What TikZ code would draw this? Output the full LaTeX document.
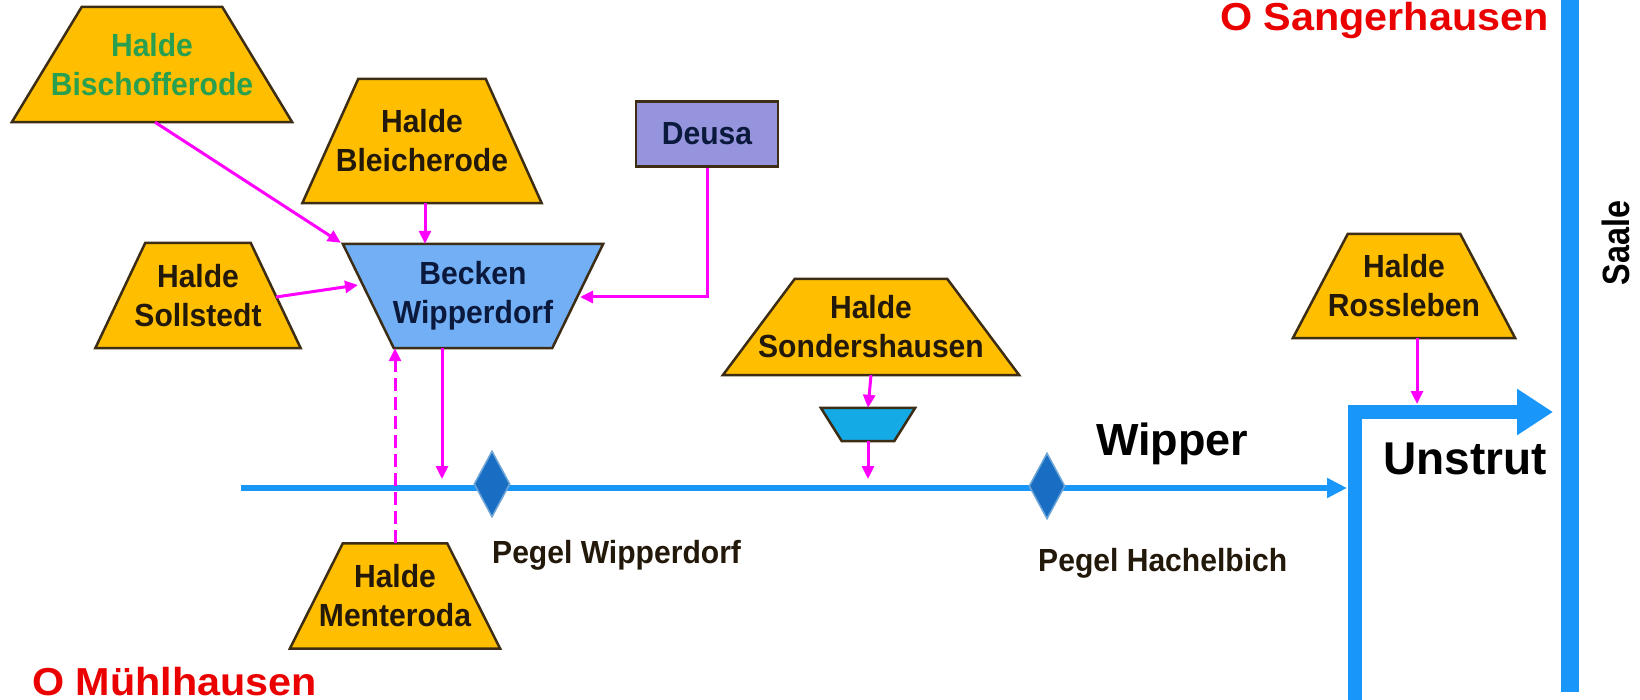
\documentclass[tikz,border=0pt]{standalone}
\usepackage{fontspec}
\setmainfont{Liberation Sans}
\newfontfamily\redfont[FakeStretch=1.06]{Liberation Sans}
\newfontfamily\boxfont[FakeStretch=0.94]{Liberation Sans}
\newfontfamily\saalefont[FakeStretch=0.85]{Liberation Sans}
\usetikzlibrary{shapes.geometric,arrows.meta,backgrounds,calc}
\definecolor{haldefill}{RGB}{255,190,0}
\definecolor{outl}{RGB}{60,45,20}
\definecolor{beckfill}{RGB}{115,175,245}
\definecolor{deusafill}{RGB}{150,148,220}
\definecolor{bucketfill}{RGB}{20,170,230}
\definecolor{river}{RGB}{25,150,250}
\definecolor{pegel}{RGB}{25,110,195}
\definecolor{pegelrim}{RGB}{110,165,215}
\definecolor{mag}{RGB}{255,0,255}
\definecolor{boxtext}{RGB}{35,25,10}
\definecolor{becktext}{RGB}{10,25,60}
\definecolor{greentext}{RGB}{40,160,80}
\definecolor{redtext}{RGB}{235,0,0}
\newcommand\haldeshape[3]{\filldraw[#3] ($(#1.north west)+(#2,0)$) -- ($(#1.north east)+(-#2,0)$) -- (#1.south east) -- (#1.south west) -- cycle;}
\newcommand\invshape[3]{\filldraw[#3] (#1.north west) -- (#1.north east) -- ($(#1.south east)+(-#2,0)$) -- ($(#1.south west)+(#2,0)$) -- cycle;}
\begin{document}
\begin{tikzpicture}[x=1pt,y=-1pt,
  boxtxt/.style={inner sep=0pt, align=center, font=\boxfont\fontsize{32}{39}\selectfont\bfseries, text=boxtext},
  haldestyle/.style={fill=haldefill, draw=outl, line width=2.5pt, line join=miter},
  beckstyle/.style={fill=beckfill, draw=outl, line width=2.5pt},
  bucketstyle/.style={fill=bucketfill, draw=outl, line width=2.5pt},
  magarrow/.style={draw=mag, line width=3pt, -{Triangle[length=13pt,width=12pt]}},
  magdash/.style={magarrow, dash pattern=on 13pt off 6pt},
  pegelstyle/.style={diamond, fill=pegel, draw=pegelrim, line width=1.5pt, minimum width=36pt, minimum height=66pt, inner sep=0pt},
  labeltxt/.style={inner sep=0pt, anchor=base west, font=\boxfont\fontsize{32}{36}\selectfont\bfseries, text=boxtext},
  bigtxt/.style={inner sep=0pt, anchor=base west, text=black},
  citytxt/.style={inner sep=0pt, anchor=base west, text=redtext, font=\redfont\fontsize{39}{42}\selectfont\bfseries}]
\useasboundingbox (0,0) rectangle (1640,700);

% trapezoid labels (shapes drawn on background layer)
\node[boxtxt, text=greentext, minimum width=280pt, minimum height=115pt] (bisch) at (152,64.5) {Halde\\Bischofferode};
\node[boxtxt, minimum width=239pt, minimum height=124pt] (bleich) at (422,141) {Halde\\Bleicherode};
\node[boxtxt, minimum width=205pt, minimum height=105pt] (sollst) at (198,295.5) {Halde\\Sollstedt};
\node[boxtxt, text=becktext, minimum width=260pt, minimum height=104pt] (beck) at (473,296) {Becken\\Wipperdorf};
\node[boxtxt, minimum width=296pt, minimum height=96pt] (sond) at (871,327) {Halde\\Sondershausen};
\node[boxtxt, minimum width=94pt, minimum height=33pt] (bucket) at (868,424.5) {};
\node[boxtxt, minimum width=222pt, minimum height=104pt] (ross) at (1404,286) {Halde\\Rossleben};
\node[boxtxt, minimum width=210pt, minimum height=105pt] (ment) at (395,596) {Halde\\Menteroda};
\node[boxtxt, text=becktext, draw=outl, fill=deusafill, line width=2.5pt, minimum width=142pt, minimum height=65pt] (deusa) at (707,134) {Deusa};

\begin{scope}[on background layer]
  \fill[white] (0,0) rectangle (1640,700);
  \haldeshape{bisch}{70}{haldestyle}
  \haldeshape{bleich}{56}{haldestyle}
  \haldeshape{sollst}{50}{haldestyle}
  \invshape{beck}{51}{beckstyle}
  \haldeshape{sond}{72}{haldestyle}
  \invshape{bucket}{21}{bucketstyle}
  \haldeshape{ross}{55}{haldestyle}
  \haldeshape{ment}{53}{haldestyle}
\end{scope}

% rivers
\coordinate (wstart) at (241,488);
\coordinate (wend) at (1347,488);
\coordinate (ubot) at (1355,700);
\coordinate (ucorner) at (1355,412);
\coordinate (utip) at (1553,412);
\coordinate (stop) at (1570,0);
\coordinate (sbot) at (1570,692);
\draw[river, line width=6pt, -{Triangle[length=20pt,width=19pt]}] (wstart) -- (wend);
\draw[river, line width=14pt, line join=miter, -{Triangle[length=36pt,width=44pt]}] (ubot) -- (ucorner) -- (utip);
\draw[river, line width=18pt] (stop) -- (sbot);

% gauges
\node[pegelstyle] (pw) at (492,484) {};
\node[pegelstyle] (ph) at (1047,486) {};
\node[labeltxt] (pwl) at (492,563) {Pegel Wipperdorf};
\node[labeltxt] (phl) at (1038,571) {Pegel Hachelbich};

% river names
\node[bigtxt, font=\fontsize{45}{50}\selectfont\bfseries] (wipper) at (1096,455) {Wipper};
\node[bigtxt, font=\fontsize{46}{50}\selectfont\bfseries] (unstrut) at (1383,474) {Unstrut};
\node[inner sep=0pt, rotate=90, text=black, font=\saalefont\fontsize{38}{40}\selectfont\bfseries] (saale) at (1616,243) {Saale};

% towns
\node[citytxt] (sang) at (1220,31) {O Sangerhausen};
\node[citytxt] (muehl) at (32,695) {O Mühlhausen};

% connectors
\draw[magarrow] ($(bisch.south)+(3,0)$) -- ($(beck.north west)+(-2,-1)$);
\draw[magarrow] ($(bleich.south)+(3,0)$) coordinate (l1) -- (l1 |- beck.north);
\draw[magarrow] ($(sollst.center)+(78,1.5)$) -- ($(beck.center)+(-115,-11)$);
\draw[magarrow] (deusa.south) |- ($(beck.center)+(107,1)$);
\draw[magarrow, shorten >=9pt] ($(beck.south)+(-31,0)$) coordinate (b1) -- (b1 |- wstart);
\draw[magdash] (ment.north) -- (ment.north |- beck.south);
\draw[magarrow] (sond.south) -- (bucket.north);
\draw[magarrow, shorten >=9pt] (bucket.south) -- (bucket.south |- wstart);
\draw[magarrow, shorten >=8pt] ($(ross.south)+(13,0)$) coordinate (r1) -- (r1 |- ucorner);
\end{tikzpicture}
\end{document}
